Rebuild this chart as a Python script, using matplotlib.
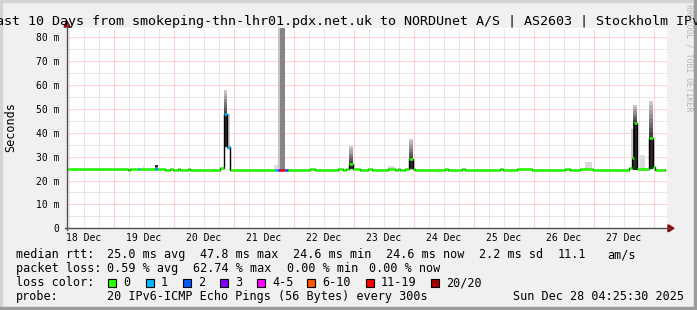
import matplotlib.pyplot as plt
import numpy as np
from matplotlib.patches import Rectangle, Polygon

plt.rcParams['font.family'] = ['DejaVu Sans Mono', 'DejaVu Sans']

# time axis: days since 18 Dec 00:00, latency in ms
x_left, x_right = 0.2167, 10.2167
series_end = 10.18
y_top = 83.9

day_labels = ['18 Dec', '19 Dec', '20 Dec', '21 Dec', '22 Dec',
              '23 Dec', '24 Dec', '25 Dec', '26 Dec', '27 Dec']
y_ticks = [0, 10, 20, 30, 40, 50, 60, 70, 80]
y_labels = ['0', '10 m', '20 m', '30 m', '40 m', '50 m', '60 m', '70 m', '80 m']

# median rtt as steps: start of step, value (ms), loss category index
med_t = [0.2167, 1.2333, 1.2667, 1.4, 1.4333, 1.6833, 1.7333, 1.85, 1.9333, 1.9833,
         2.0667, 2.1, 2.2333, 2.2667, 2.7667, 2.8333, 2.8833, 2.9333, 3.6833, 3.7333,
         3.7667, 3.85, 3.9, 4.2667, 4.35, 4.7333, 4.8167, 4.8667, 4.9167, 4.9833,
         5.1, 5.2333, 5.3, 5.5667, 5.6833, 5.7333, 5.7667, 5.85, 5.9167, 5.9833,
         6.0167, 6.5167, 6.5667, 6.8, 6.85, 7.4333, 7.4833, 7.7167, 7.9667, 8.5167,
         8.6, 8.7667, 8.9833, 9.5833, 9.6333, 9.6667, 9.7167, 9.9167, 9.9833, 10.0167]
med_ms = [25.0, 24.6, 25.0, 25.0, 25.0, 25.0, 25.0, 24.6, 25.0, 24.6,
          25.0, 24.6, 25.0, 24.6, 25.4, 47.8, 33.9, 24.6, 24.6, 24.4,
          24.6, 24.6, 24.6, 25.0, 24.6, 25.0, 24.6, 25.0, 27.1, 25.0,
          24.6, 25.0, 24.6, 25.0, 24.6, 25.0, 24.6, 25.0, 28.9, 25.0,
          24.6, 25.0, 24.6, 25.0, 24.6, 25.0, 24.6, 25.0, 24.6, 25.0,
          24.6, 25.0, 24.4, 25.2, 29.5, 44.3, 25.0, 37.9, 25.8, 24.4]
med_loss = [0, 0, 0, 1, 0, 1, 0, 0, 0, 0,
            0, 0, 0, 0, 0, 1, 1, 0, 1, 3,
            6, 2, 0, 0, 0, 0, 0, 0, 0, 0,
            0, 0, 0, 0, 0, 0, 0, 0, 0, 0,
            0, 0, 0, 0, 0, 0, 0, 0, 0, 0,
            0, 0, 0, 0, 0, 0, 0, 0, 0, 0]

# smoke: spread of the pings in a slot (outer range, dark core range)
smoke_t0 = [1.4833, 1.6833, 2.8333, 2.8833, 3.6667, 3.7333, 3.7667, 4.9167, 5.5667,
            5.9167, 8.85, 9.6167, 9.65, 9.7667, 9.9167, 9.9833]
smoke_t1 = [1.5167, 1.7333, 2.8833, 2.9333, 3.7333, 3.7667, 3.85, 4.9833, 5.6833,
            5.9833, 8.9667, 9.65, 9.7167, 9.85, 9.9833, 10.0167]
smoke_lo = [24.8, 24.8, 34.0, 33.0, 24.6, 24.6, 24.6, 25.0, 24.8,
            25.0, 24.8, 29.5, 24.6, 24.8, 25.0, 24.4]
smoke_hi = [26.0, 26.6, 58.0, 48.0, 26.5, 200, 200, 34.5, 26.2,
            37.5, 27.6, 41.6, 51.7, 30.7, 53.3, 27.0]
smoke_core_lo = [24.8, 25.6, 34.0, 33.0, 24.6, 24.6, 24.6, 25.0, 24.8,
                 25.0, 24.8, 29.5, 24.6, 24.8, 25.0, 24.4]
smoke_core_hi = [24.8, 26.6, 48.0, 33.0, 24.6, 24.6, 24.6, 27.1, 24.8,
                 28.9, 24.8, 29.5, 44.3, 24.8, 38.4, 24.4]
smoke_shade = ['#dadada', '#707070', '#d0d0d0', '#cfcfcf', '#dedede', '#c4c4c4', '#858585',
               '#d4d4d4', '#dedede', '#d4d4d4', '#d8d8d8', '#c8c8c8', '#d2d2d2', '#dcdcdc',
               '#d2d2d2', '#dcdcdc']

loss_names = ['0', '1', '2', '3', '4-5', '6-10', '11-19', '20/20']
loss_colors = ['#26ff00', '#00b8ff', '#0059ff', '#7e00ff', '#ff00ff', '#ff5500', '#ff0000', '#a10000']
loss_box_x = [108, 146, 183, 220, 257, 307, 366, 431]

stats_rtt = ['median rtt:', '25.0 ms avg', '47.8 ms max', '24.6 ms min', '24.6 ms now',
             '2.2 ms sd', '11.1', 'am/s']
stats_rtt_x = [16, 107, 200, 293, 386, 479, 558, 607]
stats_loss = ['packet loss:', '0.59 % avg', '62.74 % max', '0.00 % min', '0.00 % now']
stats_loss_x = [16, 107, 193, 287, 369]

title = 'Last 10 Days from smokeping-thn-lhr01.pdx.net.uk to NORDUnet A/S | AS2603 | Stockholm IPv6'
probe = '20 IPv6-ICMP Echo Pings (56 Bytes) every 300s'
stamp = 'Sun Dec 28 04:25:30 2025'

W, H = 697, 310
fig = plt.figure(figsize=(W / 100, H / 100), dpi=100, facecolor='#f0f0f0')

# main plot, placed in pixels
px_l, px_r, px_t, px_b = 67, 667, 28, 228.3
ax = fig.add_axes([px_l / W, 1 - px_b / H, (px_r - px_l) / W, (px_b - px_t) / H])
ax.set_facecolor('white')
ax.set_xlim(x_left, x_right)
ax.set_ylim(0, y_top)
for s in ax.spines.values():
    s.set_visible(False)

# grid
dot = (0, (1, 1))
for d in np.arange(0.25, 10.25, 0.25):
    if abs(d - round(d)) > 1e-6 and x_left < d < x_right:
        ax.axvline(d, color='#d0d0d0', lw=0.72, ls=dot, zorder=0)
for v in range(5, 85, 10):
    ax.axhline(v, color='#d0d0d0', lw=0.72, ls=dot, zorder=0)
for d in range(1, 11):
    ax.axvline(d, color='#ffa8a8', lw=0.72, ls=dot, zorder=0.5)
for v in y_ticks[1:]:
    ax.axhline(v, color='#ffa8a8', lw=0.72, ls=dot, zorder=0.5)


def mix(c1, c2, f):
    a = np.array(plt.matplotlib.colors.to_rgb(c1))
    b = np.array(plt.matplotlib.colors.to_rgb(c2))
    return tuple(a + (b - a) * f)


# smoke: light outer band, fading to a dark core around the median
for i in range(len(smoke_t0)):
    w = smoke_t1[i] - smoke_t0[i]
    lo, hi = smoke_lo[i], smoke_hi[i]
    clo, chi = smoke_core_lo[i], smoke_core_hi[i]
    ax.add_patch(Rectangle((smoke_t0[i], lo), w, hi - lo, facecolor=smoke_shade[i],
                           edgecolor='none', zorder=1))
    if chi > clo:
        ax.add_patch(Rectangle((smoke_t0[i], clo), w, chi - clo, facecolor='#2a2a2a',
                               edgecolor='none', zorder=1.2))
        # fade from the core up to the outer top
        n = 8
        edges_y = np.linspace(chi, hi, n + 1)
        for k in range(n):
            ax.add_patch(Rectangle((smoke_t0[i], edges_y[k]), w, edges_y[k + 1] - edges_y[k],
                                   facecolor=mix('#3a3a3a', smoke_shade[i], (k + 0.5) / n),
                                   edgecolor='none', zorder=1.1))

# median line: black connectors, coloured steps by loss
edges = med_t + [series_end]
ax.step(edges, med_ms + [med_ms[-1]], where='post', color='black', lw=1.0, zorder=2)
ax.hlines(med_ms, edges[:-1], edges[1:], colors=[loss_colors[k] for k in med_loss],
          lw=1.8, zorder=3)

ax.set_xticks([d + 0.5 for d in range(10)])
ax.set_xticklabels(day_labels, fontsize=7)
ax.set_yticks(y_ticks)
ax.set_yticklabels(y_labels, fontsize=7)
ax.tick_params(axis='x', length=0, pad=3.5)
ax.tick_params(axis='y', length=0, pad=5.5)

# overlay in pixel coordinates for frame, axes arrows and legend
ov = fig.add_axes([0, 0, 1, 1], facecolor='none')
ov.set_xlim(0, W)
ov.set_ylim(H, 0)
ov.axis('off')
ov.add_patch(Rectangle((0, 0), W, 2, color='#d4d4d4'))
ov.add_patch(Rectangle((0, 0), 2, H, color='#d4d4d4'))
ov.add_patch(Rectangle((W - 3, 0), 3, H, color='#9c9c9c'))
ov.add_patch(Rectangle((0, H - 3), W, 3, color='#9c9c9c'))

ov.plot([px_l, px_l], [px_b + 2, 24], color='#505050', lw=1.0)
ov.plot([px_l - 2, 670], [px_b, px_b], color='#505050', lw=1.0)
ov.add_patch(Polygon([[px_l - 3, 27], [px_l + 3, 27], [px_l, 21]], color='#8b0000'))
ov.add_patch(Polygon([[668, px_b - 3.5], [668, px_b + 3.5], [674, px_b]], color='#8b0000'))

ov.text(W / 2, 24.5, title, ha='center', va='baseline', fontsize=9.6)
ov.text(10.5, 127, 'Seconds', rotation=90, ha='center', va='center', fontsize=8.5)
ov.text(688.5, 4, 'RRDTOOL / TOBI OETIKER', rotation=270, ha='center', va='top',
        fontsize=5.9, color='#b4b4b4')

fs = 8.5
for txt, x in zip(stats_rtt, stats_rtt_x):
    ov.text(x, 258.3, txt, ha='left', va='baseline', fontsize=fs)
for txt, x in zip(stats_loss, stats_loss_x):
    ov.text(x, 272.3, txt, ha='left', va='baseline', fontsize=fs)
ov.text(16, 286.3, 'loss color:', ha='left', va='baseline', fontsize=fs)
for name, c, x in zip(loss_names, loss_colors, loss_box_x):
    ov.add_patch(Rectangle((x, 278.5), 8, 8, facecolor=c, edgecolor='black', lw=0.8))
    ov.text(x + 15, 286.3, name, ha='left', va='baseline', fontsize=fs)
ov.text(16, 300, 'probe:', ha='left', va='baseline', fontsize=fs)
ov.text(107, 300, probe, ha='left', va='baseline', fontsize=fs)
ov.text(513, 300, stamp, ha='left', va='baseline', fontsize=fs)

fig.savefig('out.png', dpi=100, facecolor=fig.get_facecolor())
